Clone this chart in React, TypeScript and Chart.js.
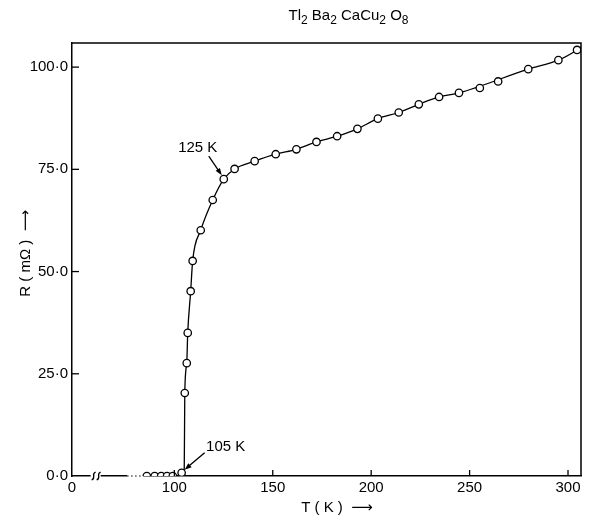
import React, { useEffect, useRef } from "react";
import { Chart, registerables } from "chart.js";

Chart.register(...registerables);

// ---- data ----
const TEMPERATURE_K = [
  86, 90, 93.3, 96.3, 99.2, 103.7,
  105.3, 106.3, 106.8, 108.3, 109.3, 113.4, 119.5, 125.1, 130.6, 140.8,
  151.5, 162, 172.2, 182.7, 193, 203.4, 214, 224.2, 234.5, 244.6,
  255.2, 264.5, 279.8, 295.1, 304.6,
];
const RESISTANCE_MOHM = [
  0, 0, 0, 0, 0, 0.8,
  20.3, 27.6, 35.0, 45.2, 52.6, 60.1, 67.5, 72.6, 75.1, 77.0,
  78.7, 79.9, 81.7, 83.1, 84.9, 87.4, 88.9, 90.9, 92.7, 93.7,
  94.9, 96.5, 99.5, 101.7, 104.2,
];
// points that the hand-drawn curve does not pass through
const CURVE_SKIPS_K = [103.7, 255.2, 264.5];
// onset of the transition, where the curve leaves the axis
const TC_ONSET_K = 105;
const TC_ONSET_MOHM = 0;
// where the drawn curve meets the right frame
const CURVE_END_K = 306.6;
const CURVE_END_MOHM = 104.9;

// broken x axis: its origin is labelled "0"
const X_MIN = 48;
const X_MAX = 306.6;
const X_TICKS = [48, 100, 150, 200, 250, 300];
const X_TICK_LABELS = ["0", "100", "150", "200", "250", "300"];
const AXIS_BREAK_K = 59;
const AXIS_DOTTED_FROM_K = 76;

const Y_MIN = 0;
const Y_MAX = 105.9;
const Y_TICKS = [0, 25, 50, 75, 100];
const Y_TICK_LABELS = ["0·0", "25·0", "50·0", "75·0", "100·0"];

const TITLE_PARTS: [string, boolean][] = [
  ["Tl", false], ["2", true], [" Ba", false], ["2", true],
  [" CaCu", false], ["2", true], [" O", false], ["8", true],
];
const X_TITLE = "T ( K )  \u27F6";
const Y_TITLE = "R ( m\u03A9 )  \u27F6";

const ANNOT_LABELS = ["125 K", "105 K"];
const ANNOT_T = [125.1, 103.7];
const ANNOT_R = [72.6, 0.8];

const FONT = '"Liberation Sans", "DejaVu Sans", sans-serif';

function drawArrow(ctx: CanvasRenderingContext2D, x1: number, y1: number, x2: number, y2: number) {
  const ang = Math.atan2(y2 - y1, x2 - x1);
  const hl = 7, hw = 2.6;
  ctx.beginPath();
  ctx.moveTo(x1, y1);
  ctx.lineTo(x2 - Math.cos(ang) * hl * 0.8, y2 - Math.sin(ang) * hl * 0.8);
  ctx.stroke();
  ctx.beginPath();
  ctx.moveTo(x2, y2);
  ctx.lineTo(x2 - Math.cos(ang) * hl - Math.sin(ang) * hw, y2 - Math.sin(ang) * hl + Math.cos(ang) * hw);
  ctx.lineTo(x2 - Math.cos(ang) * hl + Math.sin(ang) * hw, y2 - Math.sin(ang) * hl - Math.cos(ang) * hw);
  ctx.closePath();
  ctx.fill();
}

const decorPlugin = {
  id: "decor",
  beforeDraw(chart: any) {
    const { ctx, width, height } = chart;
    ctx.save();
    ctx.fillStyle = "#fff";
    ctx.fillRect(0, 0, width, height);
    ctx.restore();
  },
  beforeDatasetsDraw(chart: any) {
    const { ctx, chartArea: a, scales } = chart;
    const xs = scales.x;
    const bx = xs.getPixelForValue(AXIS_BREAK_K);
    const dx0 = xs.getPixelForValue(AXIS_DOTTED_FROM_K);
    const firstX = xs.getPixelForValue(TEMPERATURE_K[0]);
    ctx.save();
    ctx.fillStyle = "#fff";
    // small gap at the break
    ctx.fillRect(bx - 3, a.bottom - 2, 10, 4);
    // dotted run just before the first points
    ctx.fillRect(dx0, a.bottom - 2, firstX - dx0 - 3, 4);
    ctx.strokeStyle = "#000";
    ctx.lineWidth = 1;
    ctx.setLineDash([1.5, 2.5]);
    ctx.beginPath();
    ctx.moveTo(dx0, a.bottom);
    ctx.lineTo(firstX - 3, a.bottom);
    ctx.stroke();
    ctx.setLineDash([]);
    // break marks
    ctx.lineWidth = 1.3;
    for (const dx of [0, 5]) {
      const x = bx + dx;
      ctx.beginPath();
      ctx.moveTo(x - 2, a.bottom + 4);
      ctx.bezierCurveTo(x + 3, a.bottom + 2, x - 3, a.bottom - 2, x + 2, a.bottom - 4);
      ctx.stroke();
    }
    ctx.restore();
  },
  afterDraw(chart: any) {
    const { ctx, chartArea: a, scales } = chart;
    const xs = scales.x, ys = scales.y;
    ctx.save();
    ctx.strokeStyle = "#000";
    ctx.fillStyle = "#000";
    ctx.lineWidth = 1.5;
    // top and right frame
    ctx.beginPath();
    ctx.moveTo(a.left, a.top);
    ctx.lineTo(a.right, a.top);
    ctx.lineTo(a.right, a.bottom);
    ctx.stroke();
    // inward ticks
    ctx.lineWidth = 1.3;
    for (const v of Y_TICKS) {
      if (v === Y_MIN) continue;
      const y = ys.getPixelForValue(v);
      ctx.beginPath();
      ctx.moveTo(a.left, y);
      ctx.lineTo(a.left + 7, y);
      ctx.stroke();
    }
    for (const v of X_TICKS) {
      if (v === X_MIN) continue;
      const x = xs.getPixelForValue(v);
      ctx.beginPath();
      ctx.moveTo(x, a.bottom);
      ctx.lineTo(x, a.bottom - 6);
      ctx.stroke();
    }
    // title with subscripts
    const big = "15px " + FONT, small = "12px " + FONT;
    let total = 0;
    for (const [t, sub] of TITLE_PARTS) {
      ctx.font = sub ? small : big;
      total += ctx.measureText(t).width;
    }
    let x = (a.left + a.right) / 2 + 22 - total / 2;
    ctx.textBaseline = "alphabetic";
    ctx.textAlign = "left";
    for (const [t, sub] of TITLE_PARTS) {
      ctx.font = sub ? small : big;
      ctx.fillText(t, x, sub ? 24 : 20);
      x += ctx.measureText(t).width;
    }
    // annotations
    ctx.font = "15px " + FONT;
    ctx.textAlign = "center";
    ctx.textBaseline = "middle";
    ctx.lineWidth = 1.3;
    const offsets = [
      { lx: -26, ly: -31, ax: -15, ay: -23, bx: -2, by: -4 },
      { lx: 44, ly: -26, ax: 23, ay: -20, bx: 3, by: -3 },
    ];
    ANNOT_LABELS.forEach((lab, i) => {
      const px = xs.getPixelForValue(ANNOT_T[i]);
      const py = ys.getPixelForValue(ANNOT_R[i]);
      const o = offsets[i];
      ctx.fillText(lab, px + o.lx, py + o.ly);
      drawArrow(ctx, px + o.ax, py + o.ay, px + o.bx, py + o.by);
    });
    ctx.restore();
  },
};

export default function App() {
  const ref = useRef<HTMLCanvasElement | null>(null);
  useEffect(() => {
    document.body.style.margin = "0";
    const canvas = ref.current;
    if (!canvas) return;
    const points = TEMPERATURE_K.map((t, i) => ({ x: t, y: RESISTANCE_MOHM[i] }));
    const curve = points
      .filter((p) => !CURVE_SKIPS_K.includes(p.x))
      .concat([
        { x: TC_ONSET_K, y: TC_ONSET_MOHM },
        { x: CURVE_END_K, y: CURVE_END_MOHM },
      ])
      .sort((p, q) => p.x - q.x);
    const tickFont = { family: FONT, size: 15 };
    const chart = new Chart(canvas, {
      type: "scatter",
      data: {
        datasets: [
          {
            label: "data",
            data: points,
            pointRadius: 3.7,
            pointBorderWidth: 1.3,
            pointBackgroundColor: "#fff",
            pointBorderColor: "#000",
            showLine: false,
          } as any,
          {
            type: "line",
            label: "curve",
            data: curve,
            borderColor: "#000",
            borderWidth: 1.3,
            pointRadius: 0,
            fill: false,
            cubicInterpolationMode: "monotone",
          } as any,
        ],
      },
      options: {
        animation: false,
        responsive: false,
        devicePixelRatio: 1,
        layout: { padding: { top: 43, right: 19, left: 0, bottom: 0 } },
        plugins: { legend: { display: false }, tooltip: { enabled: false } },
        scales: {
          x: {
            type: "linear",
            min: X_MIN,
            max: X_MAX,
            grid: { display: false, drawTicks: false },
            border: { display: true, color: "#000", width: 1.5 },
            afterBuildTicks: (s: any) => {
              s.ticks = X_TICKS.map((v) => ({ value: v }));
            },
            ticks: {
              color: "#000",
              font: tickFont,
              padding: 3,
              maxRotation: 0,
              autoSkip: false,
              callback: (v: any) => X_TICK_LABELS[X_TICKS.indexOf(Number(v))] ?? "",
            },
            title: {
              display: true,
              text: "     " + X_TITLE,
              color: "#000",
              font: { family: FONT, size: 15 },
              padding: { top: 0, bottom: 8 },
            },
            afterFit: (s: any) => {
              s.height = 49;
            },
          },
          y: {
            type: "linear",
            min: Y_MIN,
            max: Y_MAX,
            grid: { display: false, drawTicks: false },
            border: { display: true, color: "#000", width: 1.5 },
            afterBuildTicks: (s: any) => {
              s.ticks = Y_TICKS.map((v) => ({ value: v }));
            },
            ticks: {
              color: "#000",
              font: tickFont,
              padding: 4,
              autoSkip: false,
              callback: (v: any) => Y_TICK_LABELS[Y_TICKS.indexOf(Number(v))] ?? "",
            },
            title: {
              display: true,
              text: "   " + Y_TITLE,
              color: "#000",
              font: { family: FONT, size: 15 },
              padding: { top: 17, bottom: 0 },
            },
            afterFit: (s: any) => {
              s.width = 72;
            },
          },
        },
      } as any,
      plugins: [decorPlugin],
    });
    return () => chart.destroy();
  }, []);
  return (
    <div style={{ width: 600, height: 525 }}>
      <canvas ref={ref} width={600} height={525} style={{ display: "block" }} />
    </div>
  );
}
